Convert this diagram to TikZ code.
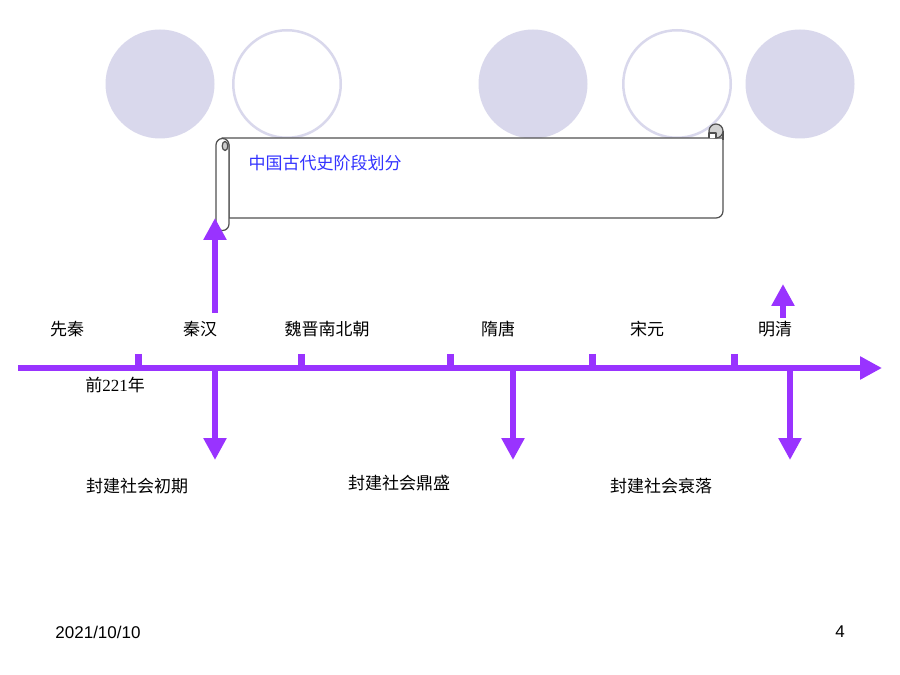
\documentclass[tikz,border=0pt]{standalone}
\usepackage{fontspec}
\setmainfont{Liberation Serif}
\newfontfamily\cjk{Noto Sans CJK SC}
\newfontfamily\arialf{Liberation Sans}
\usetikzlibrary{arrows.meta}
\definecolor{tlpurple}{RGB}{153,51,255}
\definecolor{lav}{RGB}{217,216,236}
\definecolor{ttlblue}{RGB}{51,51,255}
\definecolor{scrollline}{RGB}{80,80,80}
\begin{document}
\begin{tikzpicture}[x=0.8pt,y=-0.8pt,
  lbl/.style={font=\cjk\fontsize{13.6}{16}\selectfont, inner sep=0pt, anchor=center},
  foot/.style={font=\arialf\fontsize{13.6}{16}\selectfont, inner sep=0pt, anchor=center},
  tl/.style={draw=tlpurple, line width=4.8pt},
  arr/.style={draw=tlpurple, line width=5.2pt, -{Triangle[length=17.6pt,width=17.6pt]}},
  tickmark/.style={draw=tlpurple, line width=5.6pt},
  fullball/.style={circle, fill=lav, minimum size=87.2pt, inner sep=0pt},
  ringball/.style={circle, draw=lav, line width=2pt, minimum size=86pt, inner sep=0pt},
  scrl/.style={draw=scrollline, line width=1pt, line join=round}
]
\useasboundingbox[fill=white] (0,0) rectangle (900,675);

% circles
\node[fullball] (c1) at (160,84) {};
\node[ringball] (c2) at (287,84) {};
\node[fullball] (c3) at (533,84) {};
\node[ringball] (c4) at (677,84) {};
\node[fullball] (c5) at (800,84) {};

% scroll body
\draw[scrl, fill=white] (222,138) -- (723,138) -- (723,211) arc[start angle=0,end angle=90,radius=7] -- (229,218) -- (229,145) -- cycle;
\draw[scrl] (723,131) -- (723,140);
% top-right curl
\draw[scrl, fill=gray!35] (716,131) circle[radius=7];
\draw[scrl, fill=white] (709,138) -- (709,133) -- (716,133) -- (716,138);
% left roll
\draw[scrl, fill=white] (216,145) -- (216,224) arc[start angle=180,end angle=0,radius=6.5] -- (229,145) arc[start angle=0,end angle=-180,radius=6.5] -- cycle;
\draw[scrl, fill=gray!40] (225,146) ellipse[x radius=2.8, y radius=4.5];
\node[inner sep=0pt, minimum width=395.2pt, minimum height=64pt] (scroll) at (476,178) {};
\node[lbl, text=ttlblue] (title) at (325,163) {中国古代史阶段划分};

% timeline
\coordinate (tstart) at (18,368);
\coordinate (tend) at (882,368);
\draw[tl, -{Triangle[length=17.6pt,width=17.6pt]}] (tstart) -- (tend);
\foreach \tx in {138,301,450,592,734} {
  \draw[tickmark] (\tx,354) -- (\tx,368);
}

% arrows
\coordinate (u1s) at (215,313);
\coordinate (u1e) at (215,218);
\draw[arr] (u1s) -- (u1e);
\coordinate (u2s) at (783,318);
\coordinate (u2e) at (783,284);
\draw[arr] (u2s) -- (u2e);
\coordinate (d1s) at (215,368);
\coordinate (d1e) at (215,460);
\coordinate (d2s) at (513,368);
\coordinate (d2e) at (513,460);
\coordinate (d3s) at (790,368);
\coordinate (d3e) at (790,460);
\draw[arr] (d1s) -- (d1e);
\draw[arr] (d2s) -- (d2e);
\draw[arr] (d3s) -- (d3e);

% labels
\node[lbl] (xq) at (67,329) {先秦};
\node[lbl] (qh) at (200,329) {秦汉};
\node[lbl] (wj) at (327,329) {魏晋南北朝};
\node[lbl] (st) at (498,329) {隋唐};
\node[lbl] (sy) at (647,329) {宋元};
\node[lbl] (mq) at (775,329) {明清};
\node[lbl] (y221) at (115,385) {前\rmfamily 221\cjk 年};
\node[lbl] (p1) at (137,486) {封建社会初期};
\node[lbl] (p2) at (399,483) {封建社会鼎盛};
\node[lbl] (p3) at (661,486) {封建社会衰落};

% footer
\node[foot] (date) at (98,632) {2021/10/10};
\node[foot] (pg) at (840,632) {4};
\end{tikzpicture}
\end{document}
